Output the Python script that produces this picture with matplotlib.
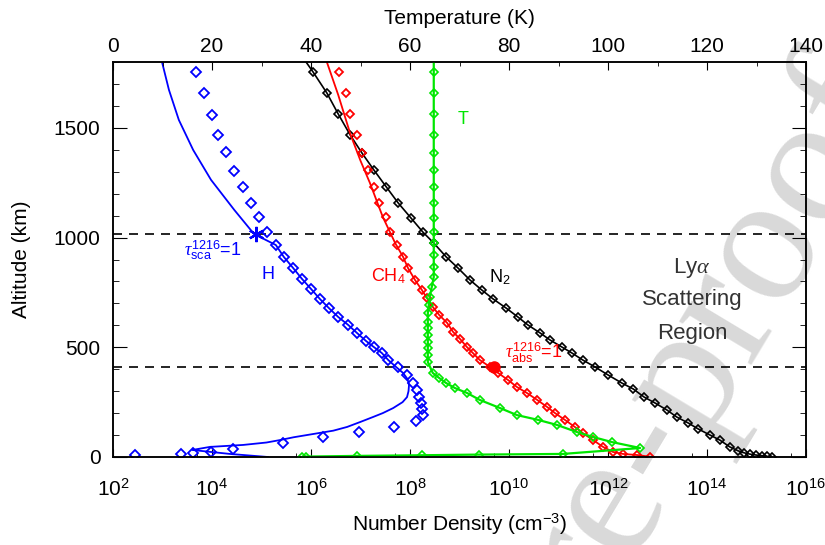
import matplotlib
matplotlib.use('Agg')
import matplotlib.pyplot as plt
import numpy as np
from matplotlib.ticker import FixedLocator, LogFormatterMathtext, NullFormatter, MultipleLocator

plt.rcParams['font.family'] = ['Liberation Sans', 'DejaVu Sans']
plt.rcParams['mathtext.fontset'] = 'custom'
plt.rcParams['mathtext.rm'] = 'Liberation Sans'
plt.rcParams['mathtext.it'] = 'Liberation Serif:italic'
plt.rcParams['mathtext.bf'] = 'Liberation Sans:bold'

# --- data (log10 number density in cm^-3, altitude in km, temperature in K)
# H model curve
h_line_log = [2.99, 3.13, 3.33, 3.62, 3.98, 4.45, 4.85, 5.29, 5.45, 5.64, 5.82, 6.00,
              6.18, 6.36, 6.55, 6.75, 6.93, 7.11, 7.27, 7.43, 7.56, 7.72, 7.86, 7.95,
              7.98, 7.97, 7.94, 7.85, 7.66, 7.45, 7.25, 7.00, 6.73, 6.45, 6.05, 5.65,
              5.37, 5.10, 4.63, 3.96, 3.60, 4.36, 5.13]
h_line_z = [1800, 1673, 1536, 1399, 1263, 1126, 1016, 966, 912, 861, 811, 766,
            720, 679, 638, 602, 565, 529, 501, 474, 442, 410, 383, 355,
            328, 300, 273, 250, 223, 200, 182, 160, 137, 120, 105, 90,
            77, 66, 55, 46, 32, 14, 0]
# H data (diamonds)
h_pts_log = [3.68, 3.84, 4.00, 4.12, 4.28, 4.44, 4.63, 4.79, 4.95, 5.11, 5.29, 5.45, 5.64,
             5.82, 6.00, 6.18, 6.36, 6.55, 6.75, 6.93, 7.11, 7.27, 7.43, 7.56, 7.76, 7.94,
             8.06, 8.14, 8.18, 8.22, 8.24, 8.26, 8.12, 7.68, 6.97, 6.24, 5.43, 4.42, 3.98,
             3.62, 3.37, 2.44]
h_pts_z = [1755, 1659, 1559, 1468, 1390, 1304, 1231, 1158, 1094, 1025, 966, 912, 861,
           811, 766, 720, 679, 638, 602, 565, 529, 501, 474, 442, 410, 374,
           337, 305, 273, 246, 219, 191, 164, 137, 114, 91, 64, 36, 23,
           18, 14, 9]

# N2 (line with diamonds)
n2_log = [5.90, 6.04, 6.32, 6.55, 6.79, 7.03, 7.27, 7.52, 7.76, 8.02, 8.26, 8.48, 8.73,
          8.97, 9.21, 9.45, 9.68, 9.94, 10.18, 10.38, 10.63, 10.83, 11.07, 11.27, 11.49,
          11.74, 12.00, 12.28, 12.51, 12.73, 12.95, 13.19, 13.39, 13.62, 13.82, 14.06,
          14.26, 14.46, 14.63, 14.75, 14.87, 14.99, 15.11, 15.21, 15.31]
n2_z = [1800, 1755, 1659, 1563, 1468, 1385, 1308, 1231, 1158, 1089, 1025, 975, 912,
        861, 807, 761, 720, 679, 638, 602, 565, 533, 501, 474, 442,
        410, 374, 337, 310, 273, 246, 214, 182, 155, 128, 100,
        77, 46, 28, 19, 13, 9, 6, 3, 1]

# CH4 model curve
ch4_line_log = [6.32, 6.55, 6.80, 7.00, 7.19, 7.45, 7.70, 7.86, 7.96, 8.10, 8.24, 8.34,
                8.46, 8.59, 8.75, 8.87, 9.01, 9.15, 9.27, 9.41, 9.62, 9.78, 9.98, 10.16,
                10.36, 10.57, 10.77, 10.93, 11.13, 11.33, 11.49, 11.70, 11.90, 12.10,
                12.30, 12.59, 12.88]
ch4_line_z = [1800, 1650, 1468, 1350, 1249, 1094, 975, 912, 861, 807, 761, 725,
              684, 647, 611, 570, 538, 501, 474, 442, 410, 383, 351, 319,
              292, 260, 228, 200, 169, 137, 109, 77, 46, 23,
              14, 9, 0]
# CH4 data (diamonds)
ch4_pts_log = [6.57, 6.71, 6.79, 6.93, 7.03, 7.15, 7.27, 7.37, 7.52, 7.60, 7.74, 7.86,
               7.96, 8.10, 8.24, 8.34, 8.46, 8.59, 8.75, 8.87, 9.01, 9.15, 9.27, 9.41,
               9.62, 9.78, 9.98, 10.16, 10.36, 10.57, 10.77, 10.93, 11.13, 11.33, 11.49,
               11.70, 11.90, 12.10, 12.30, 12.59, 12.85]
ch4_pts_z = [1755, 1659, 1563, 1468, 1385, 1308, 1231, 1158, 1094, 1025, 966, 912,
             861, 807, 761, 725, 684, 647, 611, 570, 538, 501, 474, 442,
             410, 383, 351, 319, 292, 260, 228, 200, 169, 137, 109,
             77, 46, 23, 14, 9, 0]

# temperature profile (top axis)
temp_K = [64.8, 64.8, 64.8, 64.8, 64.8, 64.8, 64.8, 64.8, 64.8, 64.8, 64.8, 64.8, 64.8,
          64.8, 64.8, 64.4, 64.0, 63.8, 63.6, 63.6, 63.6, 63.6, 63.6, 63.6, 63.6, 63.6,
          64.6, 65.9, 67.3, 69.1, 71.5, 74.1, 78.2, 81.6, 85.9, 89.7, 93.7, 97.0, 100.8,
          106.5, 90.9, 73.9, 62.4, 49.3, 39.0, 38.2]
temp_z = [1800, 1756, 1658, 1563, 1468, 1385, 1308, 1231, 1158, 1089, 1025, 975, 921,
          866, 820, 775, 729, 693, 656, 615, 588, 556, 524, 497, 465, 433,
          383, 360, 337, 314, 292, 260, 223, 191, 169, 146, 114, 91, 68,
          41, 14, 11, 8, 5, 2, 0]

# tau = 1 levels
tau_sca = (4.89, 1016)
tau_abs = (9.70, 410)
ly_bounds = [1016, 410]

blue, red, green = '#0000ff', '#ff0000', '#00e600'

fig = plt.figure(figsize=(8.25, 5.45), dpi=100)
fig.subplots_adjust(left=113/825, right=806/825, bottom=1-457/545, top=1-62/545)
ax = fig.add_subplot(111)
ax.set_facecolor('none')

# watermark
fig.text(0.651, -0.165, 'Journal Pre-proof', rotation=59, rotation_mode='anchor',
         ha='center', va='center', fontsize=132, family='Liberation Serif',
         color='#d9d9d9', zorder=-1)

for zb in ly_bounds:
    ax.axhline(zb, color='k', lw=1.2, ls=(0, (5.4, 4.2)), zorder=1)

ax.plot(10**np.array(h_line_log), h_line_z, color=blue, lw=1.3)
ax.plot(10**np.array(h_pts_log), h_pts_z, ls='none', marker='D', ms=5.0,
        mfc='none', mec=blue, mew=1.3)
ax.plot(10**np.array(n2_log), n2_z, color='k', lw=1.2, marker='D', ms=4.0,
        mfc='none', mec='k', mew=1.2, markevery=slice(1, None))
ax.plot(10**np.array(ch4_line_log), ch4_line_z, color=red, lw=1.3)
ax.plot(10**np.array(ch4_pts_log), ch4_pts_z, ls='none', marker='D', ms=4.5,
        mfc='none', mec=red, mew=1.3)
ax.plot(10**tau_sca[0], tau_sca[1], marker=(6, 2, 0), ms=11, mec=blue, mew=1.6)
ax.plot(10**tau_abs[0], tau_abs[1], marker='o', ms=8, color=red)

ax.set_xscale('log')
ax.set_xlim(1e2, 1e16)
ax.set_ylim(0, 1800)
ax.xaxis.set_major_locator(FixedLocator([10.0**k for k in range(2, 17, 2)]))
ax.xaxis.set_major_formatter(LogFormatterMathtext())
ax.xaxis.set_minor_locator(FixedLocator([(10.0**k + 10.0**(k+2)) / 2 for k in range(2, 16, 2)]))
ax.xaxis.set_minor_formatter(NullFormatter())
ax.yaxis.set_major_locator(MultipleLocator(500))
ax.yaxis.set_minor_locator(MultipleLocator(100))
ax.tick_params(axis='x', which='both', direction='in', top=False, labelsize=15, pad=15)
ax.tick_params(axis='x', which='major', length=6)
ax.tick_params(axis='x', which='minor', length=3)
ax.tick_params(axis='y', which='both', direction='in', left=True, right=True,
               labelsize=15, pad=9)
ax.tick_params(axis='y', which='major', length=10)
ax.tick_params(axis='y', which='minor', length=4.5)
ax.set_xlabel('Number Density (cm$^{-3}$)', fontsize=15, labelpad=9)
ax.set_ylabel('Altitude (km)', fontsize=15, labelpad=16)

ax2 = ax.twiny()
ax2.plot(temp_K, temp_z, color=green, lw=1.6, marker='D', ms=4.0, mfc='none',
         mec=green, mew=1.2, markevery=slice(1, None))
ax2.set_xlim(0, 140)
ax2.xaxis.set_major_locator(MultipleLocator(20))
ax2.xaxis.set_minor_locator(MultipleLocator(10))
ax2.tick_params(axis='x', which='both', direction='in', labelsize=15, pad=4)
ax2.tick_params(axis='x', which='major', length=6)
ax2.tick_params(axis='x', which='minor', length=3)
ax2.set_xlabel('Temperature (K)', fontsize=15, labelpad=10)

for a in (ax, ax2):
    for s in a.spines.values():
        s.set_linewidth(1.1)

# labels
ax.text(10**4.02, 943, r'$\tau_{\mathrm{sca}}^{1216}$=1', color=blue, fontsize=13,
        ha='center', va='center')
ax.text(10**5.13, 830, 'H', color=blue, fontsize=13, ha='center', va='center')
ax.text(10**7.56, 825, 'CH$_4$', color=red, fontsize=13, ha='center', va='center')
ax.text(10**9.82, 820, 'N$_2$', color='k', fontsize=13, ha='center', va='center')
ax.text(10**9.07, 1536, 'T', color=green, fontsize=13, ha='center', va='center')
ax.text(10**10.5, 474, r'$\tau_{\mathrm{abs}}^{1216}$=1', color=red, fontsize=13,
        ha='center', va='center')
ax.text(10**13.70, 861, r'Ly$\alpha$', color='#333333', fontsize=16, ha='center', va='center')
ax.text(10**13.70, 716, 'Scattering', color='#333333', fontsize=16, ha='center', va='center')
ax.text(10**13.70, 565, 'Region', color='#333333', fontsize=16, ha='center', va='center')

fig.savefig('out.png', dpi=100)
